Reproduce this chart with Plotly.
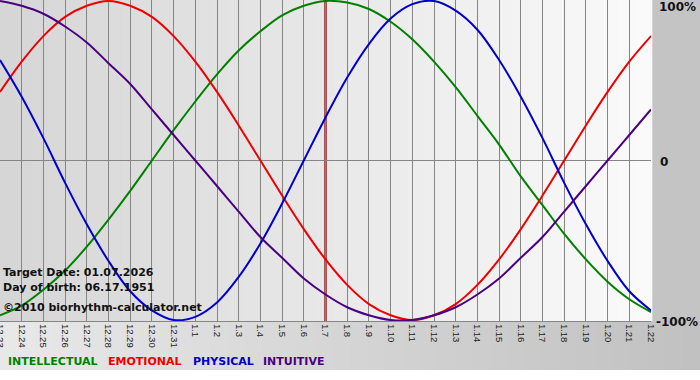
import plotly.graph_objects as go

# ---------------- data ----------------
dates = ["12.23", "12.24", "12.25", "12.26", "12.27", "12.28", "12.29", "12.30", "12.31",
         "1.1", "1.2", "1.3", "1.4", "1.5", "1.6", "1.7", "1.8", "1.9", "1.10", "1.11",
         "1.12", "1.13", "1.14", "1.15", "1.16", "1.17", "1.18", "1.19", "1.20", "1.21", "1.22"]

intellectual = [-97, -91, -81, -69, -54, -37, -19, 0, 19, 37, 54, 69, 81, 91, 97, 100,
                99, 95, 87, 76, 62, 46, 28, 10, -10, -28, -46, -62, -76, -87, -95]
emotional = [43, 62, 78, 90, 97, 100, 97, 90, 78, 62, 43, 22, 0, -22, -43, -62,
             -78, -90, -97, -100, -97, -90, -78, -62, -43, -22, 0, 22, 43, 62, 78]
physical = [63, 40, 14, -14, -40, -63, -82, -94, -100, -98, -89, -73, -52, -27, 0, 27,
            52, 73, 89, 98, 100, 94, 82, 63, 40, 14, -14, -40, -63, -82, -94]
intuitive = [100, 97, 92, 84, 74, 61, 48, 32, 16, 0, -16, -32, -48, -61, -74, -84,
             -92, -97, -100, -100, -97, -92, -84, -74, -61, -48, -32, -16, 0, 16, 32]

series_names = ["INTELLECTUAL", "EMOTIONAL", "PHYSICAL", "INTUITIVE"]
series_values = [intellectual, emotional, physical, intuitive]
series_colors = ["#008000", "#ee0000", "#0000cc", "#4b0082"]

target_label = "1.7"
right_tick_values = [100, 0, -100]
right_tick_labels = ["100%", "0", "-100%"]
info_lines = ["Target Date: 01.07.2026", "Day of birth: 06.17.1951",
              "\u00a92010 biorhythm-calculator.net"]

# ---------------- layout geometry ----------------
W, H = 700, 370
ML, MR, MT, MB = 0, 49, 0, 49
PW = W - ML - MR
PH = H - MT - MB


def paper_x(px):
    return (px - ML) / PW


def paper_y(py):
    return (MT + PH - py) / PH


# y range so that +100 sits at pixel 1 and -100 at pixel 320
scale = (320 - 1) / 200.0
half = (PH / scale) / 2.0
y_range = [-half, half]

fig = go.Figure()
for name, vals, col in zip(series_names, series_values, series_colors):
    fig.add_trace(go.Scatter(
        x=dates, y=vals, mode="lines", name=name,
        line=dict(color=col, width=2, shape="spline", smoothing=1.0),
        hoverinfo="skip", showlegend=False,
    ))


def gray(v):
    v = int(round(v))
    return f"rgb({v},{v},{v})"


shapes = []
# plot-area horizontal gradient (dark left -> light right)
N = 80
for i in range(N):
    t = i / (N - 1)
    shapes.append(dict(type="rect", xref="paper", yref="paper",
                       x0=i / N, x1=(i + 1) / N + 0.002, y0=0, y1=1,
                       fillcolor=gray(214 + (250 - 214) * t), line=dict(width=0),
                       layer="below"))
# bottom band gradient (light left -> darker right)
xr = W / PW
for i in range(N):
    t = i / (N - 1)
    shapes.append(dict(type="rect", xref="paper", yref="paper",
                       x0=xr * i / N, x1=xr * (i + 1) / N + 0.002,
                       y0=paper_y(H), y1=0,
                       fillcolor=gray(232 - (232 - 193) * t), line=dict(width=0),
                       layer="below"))
# target date marker
shapes.append(dict(type="line", xref="x", yref="paper",
                   x0=dates.index(target_label), x1=dates.index(target_label),
                   y0=0, y1=1, line=dict(color="#8a2222", width=2.5),
                   layer="between"))

annotations = []
# right side labels
right_pos = [(658, 7), (659, 162), (655, 322)]
for lab, (px, py) in zip(right_tick_labels, right_pos):
    annotations.append(dict(text=lab, xref="paper", yref="paper",
                            x=paper_x(px), y=paper_y(py), xanchor="left", yanchor="middle",
                            showarrow=False, borderpad=0,
                            font=dict(family="DejaVu Sans", size=12, color="#111111",
                                      weight="bold")))
# info text block
info_pos = [272, 287, 307]
for txt, py in zip(info_lines, info_pos):
    annotations.append(dict(text=txt, xref="paper", yref="paper",
                            x=paper_x(2), y=paper_y(py), xanchor="left", yanchor="middle",
                            showarrow=False, borderpad=0,
                            font=dict(family="DejaVu Sans", size=11, color="#111111",
                                      weight="bold")))
# colored legend words
legend_x = [7, 107, 192, 262]
for name, col, px in zip(series_names, series_colors, legend_x):
    annotations.append(dict(text=name, xref="paper", yref="paper",
                            x=paper_x(px), y=paper_y(362), xanchor="left", yanchor="middle",
                            showarrow=False, borderpad=0,
                            font=dict(family="DejaVu Sans", size=11, color=col,
                                      weight="bold")))

fig.update_layout(
    width=W, height=H,
    margin=dict(l=ML, r=MR, t=MT, b=MB, pad=0, autoexpand=False),
    paper_bgcolor="#c4c4c4",
    plot_bgcolor="rgba(0,0,0,0)",
    shapes=shapes,
    annotations=annotations,
    xaxis=dict(type="category", range=[0, len(dates) - 1], showgrid=True,
               gridcolor="#858585", gridwidth=1, tickangle=90, ticks="",
               tickfont=dict(family="Liberation Sans", size=9.5, color="#222222"),
               showline=True, linecolor="#858585", linewidth=1, zeroline=False,
               automargin=False, fixedrange=True),
    yaxis=dict(range=y_range, tickvals=[0, -100], showticklabels=False,
               showgrid=True, gridcolor="#858585", gridwidth=1, zeroline=False,
               showline=False, automargin=False, fixedrange=True),
    hovermode=False,
)

fig.write_html("out.html", config={"displayModeBar": False},
               post_script="document.body.style.margin='0px';")
